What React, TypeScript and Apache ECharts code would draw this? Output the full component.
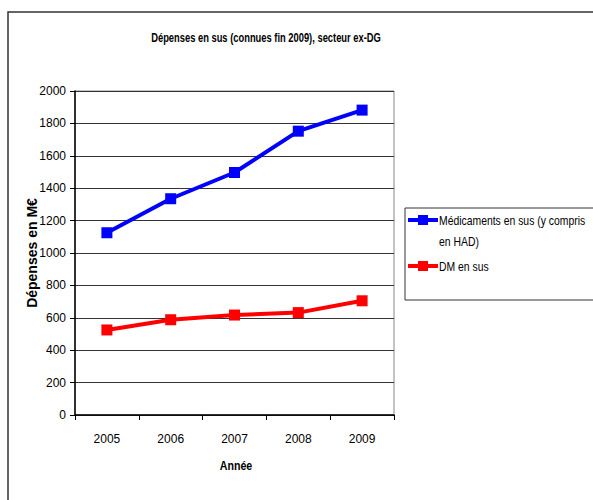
import React, { useEffect, useRef } from "react";
import * as echarts from "echarts";

const years = ["2005", "2006", "2007", "2008", "2009"];
const medicaments = [1125, 1335, 1497, 1752, 1882];
const dm = [525, 588, 617, 632, 705];
const seriesNames = ["Médicaments en sus (y compris en HAD)", "DM en sus"];
const legendLines = [["Médicaments en sus (y compris", "en HAD)"], ["DM en sus"]];
const colors = ["#0000FF", "#FF0000"];
const titleText = "Dépenses en sus (connues fin 2009), secteur ex-DG";

const FONT = "'Liberation Sans', Arial, sans-serif";

export default function App() {
  const ref = useRef<HTMLDivElement>(null);
  useEffect(() => {
    const chart = echarts.init(ref.current!, null, { renderer: "svg" });

    const legendItem = (i: number, y: number) => ({
      type: "group",
      silent: true,
      children: [
        {
          type: "line",
          shape: { x1: 408, y1: y, x2: 438, y2: y },
          style: { stroke: colors[i], lineWidth: 4 },
        },
        {
          type: "rect",
          shape: { x: 418, y: y - 5, width: 10, height: 10 },
          style: { fill: colors[i] },
        },
        ...legendLines[i].map((t, k) => ({
          type: "text",
          x: 439,
          y: y + k * 21,
          scaleX: 0.8,
          style: {
            text: t,
            fontFamily: FONT,
            fontSize: 13,
            fill: "#000",
            textAlign: "left",
            textVerticalAlign: "middle",
          },
        })),
      ],
    });

    chart.setOption({
      animation: false,
      backgroundColor: "#fff",
      textStyle: { fontFamily: FONT },
      grid: {
        left: 75,
        top: 91,
        width: 319,
        height: 324,
        show: true,
        borderColor: "#888",
        borderWidth: 1,
        backgroundColor: "transparent",
      },
      xAxis: {
        type: "category",
        data: years,
        boundaryGap: true,
        axisLine: { lineStyle: { color: "#000", width: 1.5 } },
        axisTick: { show: true, inside: false, length: 5, alignWithLabel: false, lineStyle: { color: "#000" } },
        axisLabel: { fontFamily: FONT, fontSize: 12, color: "#000", margin: 18 },
        splitLine: { show: false },
      },
      yAxis: {
        type: "value",
        min: 0,
        max: 2000,
        interval: 200,
        name: "Dépenses en M€",
        nameLocation: "middle",
        nameGap: 36,
        nameMoveOverlap: false,
        nameTextStyle: { fontFamily: FONT, fontSize: 14, fontWeight: "bold", color: "#000" },
        axisLine: { show: true, lineStyle: { color: "#000", width: 1.5 } },
        axisTick: { show: true, length: 5, lineStyle: { color: "#000" } },
        axisLabel: {
          fontFamily: FONT,
          fontSize: 12,
          color: "#000",
          margin: 9,
          formatter: (v: number) => String(v),
        },
        splitLine: { show: true, lineStyle: { color: "#333", width: 1 } },
      },
      series: [
        {
          name: seriesNames[0],
          type: "line",
          data: medicaments,
          symbol: "rect",
          symbolSize: 11,
          lineStyle: { color: colors[0], width: 4 },
          itemStyle: { color: colors[0] },
        },
        {
          name: seriesNames[1],
          type: "line",
          data: dm,
          symbol: "rect",
          symbolSize: 11,
          lineStyle: { color: colors[1], width: 4 },
          itemStyle: { color: colors[1] },
        },
      ],
      graphic: [
        {
          type: "rect",
          shape: { x: 8, y: 12, width: 620, height: 520 },
          style: { fill: "none", stroke: "#333", lineWidth: 1.5 },
          silent: true,
        },
        {
          type: "text",
          x: 266,
          y: 37,
          scaleX: 0.72,
          silent: true,
          style: {
            text: titleText,
            fontFamily: FONT,
            fontSize: 13,
            fontWeight: "bold",
            fill: "#000",
            textAlign: "center",
            textVerticalAlign: "middle",
          },
        },
        {
          type: "text",
          x: 236,
          y: 466,
          scaleX: 0.82,
          silent: true,
          style: {
            text: "Année",
            fontFamily: FONT,
            fontSize: 13,
            fontWeight: "bold",
            fill: "#000",
            textAlign: "center",
            textVerticalAlign: "middle",
          },
        },
        {
          type: "rect",
          shape: { x: 405, y: 208, width: 220, height: 92 },
          style: { fill: "none", stroke: "#333", lineWidth: 1 },
          silent: true,
        },
        legendItem(0, 220),
        legendItem(1, 266),
      ],
    });
    return () => chart.dispose();
  }, []);
  return (
    <div
      ref={ref}
      style={{ position: "absolute", left: 0, top: 0, width: 593, height: 500 }}
    />
  );
}
